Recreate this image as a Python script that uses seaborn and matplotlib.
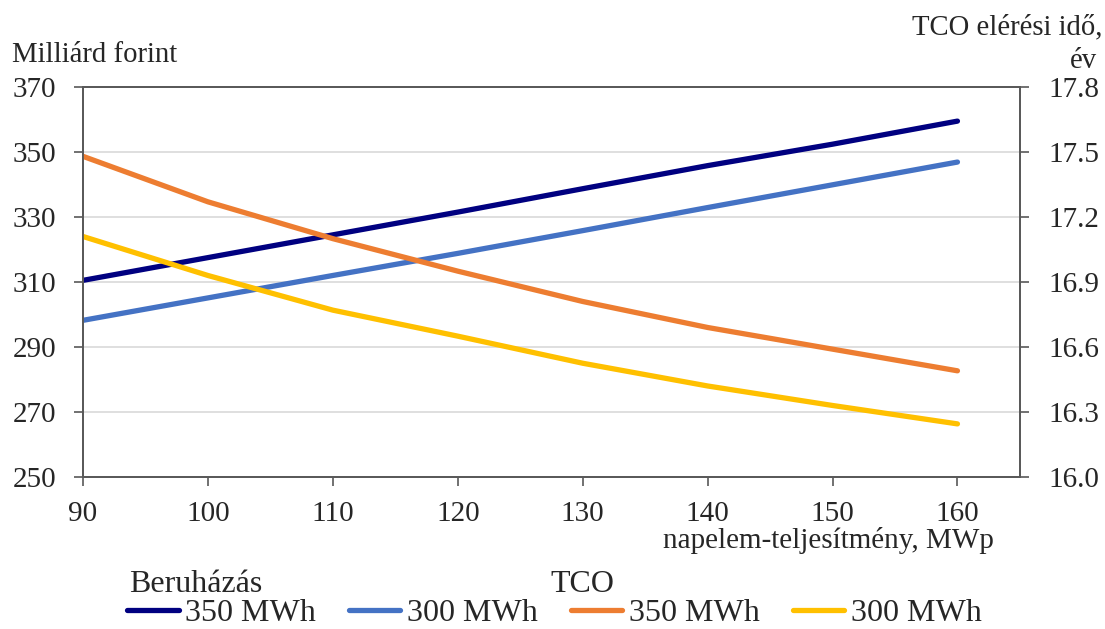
import numpy as np
import pandas as pd
import matplotlib
matplotlib.use('Agg')
import matplotlib.pyplot as plt
import seaborn as sns

sns.set_style('white')
plt.rcParams['font.family'] = ['Liberation Serif', 'DejaVu Serif']

# %% Data
napelem = [90, 100, 110, 120, 130, 140, 150, 160]  # MWp
beru_350 = [310.5, 317.5, 324.5, 331.5, 338.7, 345.8, 352.4, 359.5]  # Mrd Ft
beru_300 = [298.2, 305.1, 312.0, 318.8, 325.8, 332.9, 339.9, 346.9]
tco_350 = [17.48, 17.27, 17.10, 16.95, 16.81, 16.69, 16.59, 16.49]  # ev
tco_300 = [17.11, 16.93, 16.77, 16.65, 16.525, 16.42, 16.33, 16.245]

left_ticks = [250, 270, 290, 310, 330, 350, 370]
right_ticks = [16.0, 16.3, 16.6, 16.9, 17.2, 17.5, 17.8]
x_ticks = [90, 100, 110, 120, 130, 140, 150, 160]

colors = {'b350': '#000080', 'b300': '#4472C4', 't350': '#ED7D31', 't300': '#FFC000'}
FS_TICK = 21
FS_TITLE = 20.7
FS_LEG = 23
AXC = '#595959'

# %% Plot
fig, ax = plt.subplots(figsize=(11.05, 6.29), dpi=100)
fig.subplots_adjust(left=0.0751, right=0.923, bottom=0.2417, top=0.8617)
ax2 = ax.twinx()

lw = 3.8
kw = dict(linewidth=lw, solid_capstyle='round', legend=False)
sns.lineplot(x=napelem, y=beru_350, ax=ax, color=colors['b350'], **kw)
sns.lineplot(x=napelem, y=beru_300, ax=ax, color=colors['b300'], **kw)
sns.lineplot(x=napelem, y=tco_350, ax=ax2, color=colors['t350'], **kw)
sns.lineplot(x=napelem, y=tco_300, ax=ax2, color=colors['t300'], **kw)

ax.set_xlim(90, 165)
ax.set_ylim(250, 370)
ax2.set_ylim(16.0, 17.8)
ax.set_xticks(x_ticks)
ax.set_yticks(left_ticks)
ax2.set_yticks(right_ticks)
ax2.set_yticklabels([f'{v:.1f}' for v in right_ticks])
ax.set_xlabel('')
ax.set_ylabel('')
ax2.set_ylabel('')

ax.yaxis.grid(True, color='#d9d9d9', linewidth=1.2)
ax.set_axisbelow(True)
for a in (ax, ax2):
    for s in a.spines.values():
        s.set_color(AXC)
        s.set_linewidth(1.3)
ax.tick_params(axis='y', direction='out', length=6.5, width=1.2, color=AXC,
               labelsize=FS_TICK, pad=13, left=True)
ax.tick_params(axis='x', direction='out', length=6.5, width=1.2, color=AXC,
               labelsize=FS_TICK, pad=11, bottom=True)
ax2.tick_params(axis='y', direction='out', length=6.5, width=1.2, color=AXC,
                labelsize=FS_TICK, pad=14, right=True)

# axis titles
fig.text(12 / 1105, 1 - 62 / 629, 'Milliárd forint', fontsize=FS_TITLE, ha='left', va='baseline')
fig.text(1102 / 1105, 1 - 34 / 629, 'TCO elérési idő,', fontsize=FS_TITLE, ha='right', va='baseline')
fig.text(1097 / 1105, 1 - 68 / 629, 'év', fontsize=FS_TITLE, ha='right', va='baseline')
fig.text(994 / 1105, 1 - 548 / 629, 'napelem-teljesítmény, MWp', fontsize=FS_TICK, ha='right', va='baseline')

# legend
handles = ax.get_lines() + ax2.get_lines()
labels = ['350 MWh', '300 MWh', '350 MWh', '300 MWh']
fig.legend(handles, labels, loc='center', bbox_to_anchor=(0.5018, 1 - 613 / 629),
           ncol=4, frameon=False, fontsize=FS_LEG, handlelength=1.6, handletextpad=0.2,
           columnspacing=1.05, borderpad=0)
fig.text(129 / 1105, 1 - 592 / 629, 'Beruházás', fontsize=FS_LEG, ha='left', va='baseline')
fig.text(550 / 1105, 1 - 592 / 629, 'TCO', fontsize=FS_LEG, ha='left', va='baseline')

plt.savefig('out.png', dpi=100)
plt.close()
